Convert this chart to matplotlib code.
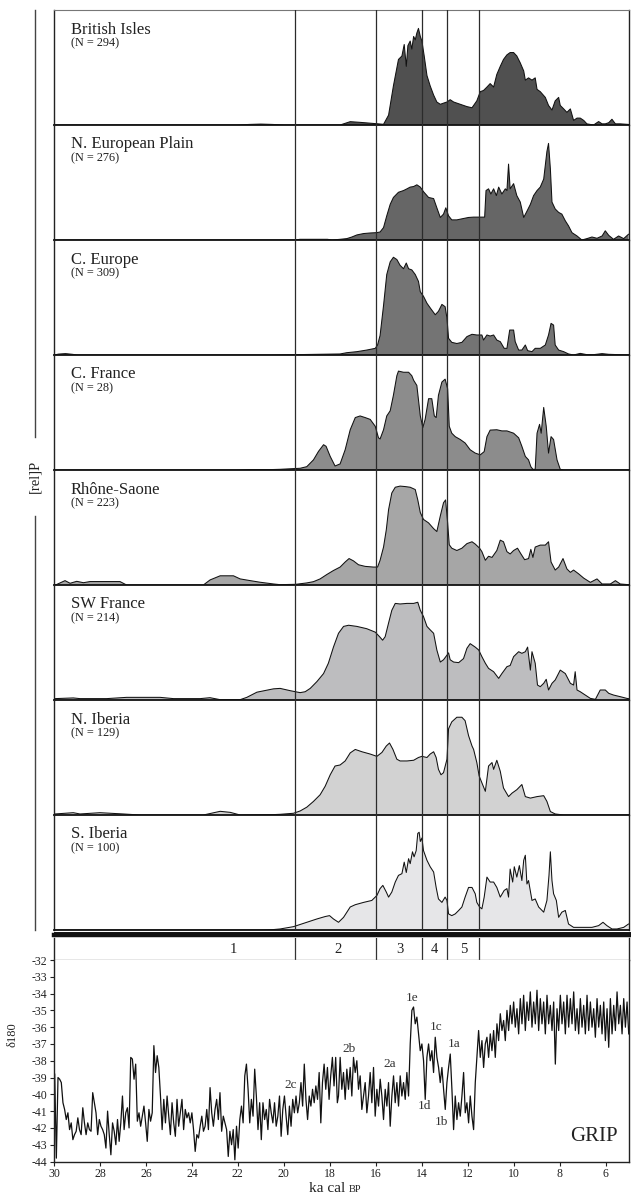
import numpy as np
import matplotlib
matplotlib.use("Agg")
import matplotlib.pyplot as plt
from matplotlib.lines import Line2D

plt.rcParams['font.family'] = ['Liberation Serif', 'DejaVu Serif']
plt.rcParams['axes.unicode_minus'] = False

# ------------------------------------------------------------------ data
regions = ["British Isles", "N. European Plain", "C. Europe", "C. France",
           "Rhône-Saone", "SW France", "N. Iberia", "S. Iberia"]
n_dates = [294, 276, 309, 28, 223, 214, 129, 100]
fill_colors = ['#505050', '#666666', '#747474', '#8c8c8c',
               '#a6a6a6', '#bdbdbf', '#d2d2d2', '#e6e6e8']

# (age ka cal BP, relative probability in % of panel height)
british_isles = [(30.0, 0), (22.0, 0), (21.5, 0.5), (21.0, 0.8), (20.5, 0.5), (20.0, 0), (17.9, 0),
    (17.55, 0), (17.11, 2.9), (16.68, 2.3), (15.95, 1.1), (15.66, 0.6), (15.44, 8.6), (15.23, 34),
    (15.01, 57), (14.86, 60), (14.76, 70), (14.67, 51), (14.60, 69), (14.50, 73), (14.43, 66),
    (14.35, 77), (14.28, 74), (14.21, 80), (14.14, 84), (14.06, 77), (13.99, 73), (13.89, 60),
    (13.77, 43), (13.63, 34), (13.48, 26), (13.34, 20), (13.19, 18), (13.05, 19), (12.90, 20),
    (12.76, 22), (12.61, 20), (12.32, 18), (12.03, 16), (11.81, 15), (11.60, 21), (11.45, 29),
    (11.31, 30), (11.16, 33), (11.02, 36), (10.87, 33), (10.73, 44), (10.58, 51), (10.44, 57),
    (10.29, 61), (10.15, 63), (10.00, 63), (9.86, 60), (9.71, 54), (9.56, 47), (9.49, 39),
    (9.35, 41), (9.20, 39), (9.06, 41), (8.98, 31), (8.84, 29), (8.62, 24), (8.48, 17),
    (8.33, 13), (8.19, 21), (8.04, 24), (7.97, 17), (7.82, 14), (7.68, 11), (7.53, 14),
    (7.39, 4), (7.24, 6), (7.10, 6), (6.95, 4), (6.81, 1), (6.52, 0), (6.30, 3), (6.15, 1),
    (6.01, 1), (5.86, 2), (5.72, 5), (5.57, 1), (5.36, 1), (5.07, 0.6), (5.0, 0.5)]

n_european_plain = [(30.0, 0), (19.5, 0), (19.3, 0.6), (18.1, 0.6), (17.9, 0), (17.55, 0.6),
    (17.26, 1.2), (17.04, 2.6), (16.82, 4.4), (16.53, 5.6), (16.24, 6.1), (15.95, 6.4),
    (15.81, 7.0), (15.66, 10.8), (15.52, 21), (15.37, 31), (15.23, 37), (15.01, 41.5),
    (14.79, 43), (14.64, 44.5), (14.50, 46), (14.35, 46.5), (14.21, 48), (14.06, 46),
    (13.92, 42), (13.70, 37), (13.48, 36), (13.34, 28), (13.19, 19.6), (13.05, 22.5),
    (12.95, 28), (12.83, 21), (12.69, 17.5), (12.47, 17.5), (12.18, 18.7), (11.96, 19.6),
    (11.74, 19.9), (11.26, 19.9), (11.20, 43), (11.09, 44.5), (10.99, 40), (10.87, 44.5),
    (10.75, 38.6), (10.65, 46), (10.51, 40), (10.36, 44.5), (10.29, 43), (10.22, 66),
    (10.15, 44.5), (10.00, 49), (9.86, 38.6), (9.71, 33), (9.56, 19.6), (9.42, 25),
    (9.27, 31), (9.13, 38.6), (8.98, 43), (8.84, 46), (8.69, 53), (8.55, 77), (8.48, 84),
    (8.40, 62), (8.33, 33), (8.19, 27), (8.04, 24), (7.90, 22.5), (7.75, 16.7), (7.61, 12.3),
    (7.46, 6.4), (7.24, 3.5), (7.03, 0), (6.81, 1.2), (6.59, 2.6), (6.37, 1.5), (6.15, 3.5),
    (6.01, 8), (5.86, 4), (5.65, 0.6), (5.43, 3.5), (5.21, 1.2), (5.0, 5)]

c_europe = [(30.0, 0), (29.8, 0.8), (29.5, 1.2), (29.2, 0.6), (29.0, 0), (20.5, 0), (19.5, 0.3),
    (17.55, 0.9), (17.26, 2), (16.82, 2.9), (16.39, 4.3), (16.02, 5.8), (15.92, 8.7),
    (15.81, 17), (15.66, 43), (15.52, 70), (15.37, 81), (15.23, 85), (15.08, 83), (14.94, 78),
    (14.79, 75), (14.67, 80), (14.57, 75), (14.43, 74), (14.28, 70), (14.14, 64), (14.06, 55),
    (13.92, 51), (13.77, 45), (13.63, 41), (13.41, 35), (13.27, 38), (13.12, 44), (12.98, 42),
    (12.90, 32), (12.83, 14.5), (12.69, 11), (12.47, 10), (12.25, 11), (12.03, 16),
    (11.81, 18), (11.60, 17.4), (11.38, 17.4), (11.31, 13), (11.16, 17.4), (11.02, 16.5),
    (10.87, 17.4), (10.73, 13), (10.58, 11.6), (10.41, 5.8), (10.29, 5.8), (10.17, 21.7),
    (10.00, 21.7), (9.93, 11.6), (9.78, 4.3), (9.64, 4.3), (9.49, 8.7), (9.39, 3.8),
    (9.20, 2.9), (9.06, 5.8), (8.84, 5.8), (8.62, 8.7), (8.48, 17.4), (8.37, 27.5),
    (8.26, 26), (8.19, 8.7), (8.04, 4.3), (7.82, 2.9), (7.61, 0.9), (7.39, 0), (7.10, 1.4),
    (6.81, 0.3), (6.52, 0.3), (6.15, 1.2), (5.86, 0.6), (5.0, 0)]

c_france = [(30.0, 0), (22.0, 0), (21.5, 0.4), (20.5, 0.4), (20.16, 0.6), (19.29, 1.5),
    (19.0, 2.9), (18.71, 8.8), (18.49, 16.2), (18.27, 22), (18.16, 20.6), (17.98, 11.8),
    (17.77, 3.5), (17.55, 5.3), (17.33, 17.6), (17.11, 35), (16.89, 45.6), (16.68, 47),
    (16.46, 45.6), (16.24, 44), (16.02, 38), (15.88, 28), (15.81, 27), (15.66, 35),
    (15.52, 47), (15.37, 51.5), (15.23, 65), (15.08, 82), (15.01, 86), (14.79, 85),
    (14.57, 85), (14.43, 82), (14.35, 78), (14.21, 73.5), (14.06, 47), (13.95, 37),
    (13.85, 44), (13.70, 62), (13.56, 62), (13.45, 47), (13.37, 45.6), (13.27, 65),
    (13.12, 76.5), (12.98, 79), (12.87, 70.6), (12.80, 38), (12.69, 32), (12.54, 29),
    (12.32, 26.5), (12.11, 23.5), (11.89, 17.6), (11.67, 14.7), (11.45, 13.2), (11.28, 16),
    (11.16, 29), (11.02, 34.7), (10.73, 35), (10.51, 34), (10.29, 34), (10.00, 32),
    (9.78, 28), (9.64, 20.6), (9.49, 11.8), (9.35, 8.8), (9.25, 2.9), (9.16, 0.6),
    (9.06, 0.6), (8.98, 32), (8.87, 39.7), (8.80, 32), (8.69, 54.4), (8.58, 38),
    (8.48, 14.7), (8.37, 29), (8.26, 26.5), (8.11, 8.8), (7.97, 0.6), (7.82, 0), (5.0, 0)]

rhone_saone = [(30.0, 0), (29.88, 0.5), (29.52, 3.8), (29.30, 1.5), (29.01, 3.2), (28.72, 2),
    (28.43, 3), (27.13, 3), (26.84, 0), (23.50, 0), (23.21, 4.4), (22.77, 8), (22.19, 8),
    (21.90, 5.3), (21.46, 3.8), (21.03, 2.4), (20.45, 0.9), (20.16, 0.3), (19.48, 0.6),
    (19.0, 1.8), (18.71, 2.9), (18.42, 5.3), (18.13, 9.1), (17.84, 12.6), (17.55, 15.6),
    (17.33, 20), (17.16, 23), (16.97, 21), (16.75, 17.6), (16.46, 16.2), (16.10, 15.6),
    (15.92, 15.6), (15.81, 21.5), (15.66, 33), (15.54, 48), (15.44, 65.6), (15.30, 80),
    (15.15, 85), (14.94, 86), (14.72, 85.6), (14.50, 85), (14.28, 83), (14.17, 74),
    (14.06, 63), (13.92, 57), (13.70, 54), (13.48, 49), (13.34, 46.5), (13.19, 60),
    (13.05, 71.5), (12.96, 74), (12.87, 54), (12.80, 35), (12.69, 32), (12.47, 30),
    (12.25, 32), (12.03, 36), (11.81, 37.6), (11.67, 35.6), (11.48, 32), (11.38, 29),
    (11.23, 21.5), (11.09, 25), (10.94, 24), (10.73, 30), (10.58, 39), (10.44, 37.6),
    (10.29, 29), (10.15, 27), (10.00, 30), (9.83, 32), (9.68, 27), (9.52, 22), (9.35, 23),
    (9.25, 31), (9.16, 24), (9.06, 33), (8.84, 34.7), (8.62, 34.7), (8.48, 37.6), (8.37, 20),
    (8.19, 13), (8.04, 15.6), (7.85, 23), (7.68, 14), (7.53, 11), (7.39, 13), (7.17, 9.7),
    (6.95, 6), (6.66, 2.3), (6.37, 5.3), (6.15, 0.9), (5.79, 0.9), (5.57, 3.8), (5.36, 0.9),
    (5.0, 0.3)]

sw_france = [(30.0, 0.5), (29.96, 1.2), (29.16, 1.8), (28.87, 1.2), (27.71, 1.2), (26.84, 2.3),
    (25.38, 2.3), (24.80, 1.2), (23.64, 1.2), (23.21, 2), (22.77, 0.3), (21.90, 0.3),
    (21.61, 2.3), (21.17, 6.8), (20.45, 9.7), (20.16, 10.1), (19.72, 8.1), (19.29, 6.4),
    (19.07, 7.2), (18.85, 10.1), (18.56, 16), (18.27, 23), (18.06, 32), (17.84, 46),
    (17.62, 58), (17.40, 64), (17.18, 65), (16.82, 64), (16.39, 62), (16.02, 59), (15.83, 55),
    (15.70, 52), (15.59, 55), (15.44, 67), (15.30, 78), (15.15, 84), (14.94, 83.5),
    (14.64, 84), (14.35, 84), (14.17, 85), (14.06, 78), (13.92, 72.5), (13.77, 64),
    (13.63, 61), (13.48, 58), (13.34, 43.5), (13.19, 33), (13.05, 35), (12.90, 39),
    (12.83, 41), (12.76, 35), (12.61, 33), (12.39, 32.5), (12.18, 36), (12.03, 45),
    (11.89, 49), (11.67, 46), (11.52, 43.5), (11.38, 37.7), (11.23, 32), (11.09, 27.5),
    (10.87, 24.6), (10.65, 18.8), (10.51, 23), (10.29, 29), (10.15, 30), (10.00, 37.7),
    (9.78, 42), (9.64, 40.6), (9.49, 42), (9.39, 46), (9.27, 26), (9.20, 42), (9.06, 32),
    (8.96, 13), (8.84, 11.6), (8.69, 14.5), (8.58, 18), (8.48, 8.7), (8.33, 14.5),
    (8.19, 17.4), (7.97, 26), (7.75, 23), (7.53, 14.5), (7.39, 13), (7.32, 24.6),
    (7.24, 8.7), (7.10, 7.2), (6.88, 4.3), (6.66, 1.4), (6.44, 0.6), (6.23, 8.7),
    (6.01, 8.7), (5.86, 5.8), (5.65, 4.3), (5.36, 2.9), (5.07, 1.4), (5.0, 1.2)]

n_iberia = [(30.0, 0.3), (29.96, 0.9), (29.16, 2), (28.87, 0.9), (28.0, 2), (26.98, 0.9),
    (26.25, 0), (23.50, 0), (22.77, 3.2), (22.33, 2.3), (21.90, 0), (20.5, 0.3),
    (20.16, 0.6), (19.58, 1.5), (19.29, 3.5), (19.0, 6.8), (18.71, 11.8), (18.42, 17.6),
    (18.20, 25), (17.98, 35), (17.77, 42.6), (17.55, 43.5), (17.33, 47), (17.11, 54),
    (16.89, 57), (16.60, 55), (16.24, 53), (15.95, 51), (15.73, 54.4), (15.54, 60),
    (15.40, 62.6), (15.25, 57), (15.08, 48.5), (14.94, 47), (14.64, 47), (14.35, 47.6),
    (14.14, 50), (13.99, 51), (13.77, 50), (13.63, 53), (13.48, 55), (13.37, 50),
    (13.27, 39.7), (13.16, 35), (13.05, 36.8), (12.90, 48.5), (12.83, 75), (12.69, 81),
    (12.47, 85), (12.25, 85), (12.11, 82), (11.96, 69), (11.81, 60), (11.74, 57),
    (11.60, 45.6), (11.50, 34), (11.38, 28), (11.23, 20.6), (11.09, 42.6), (10.94, 45.6),
    (10.87, 39.7), (10.73, 47.6), (10.58, 38), (10.44, 23.5), (10.22, 16), (10.07, 19),
    (9.86, 22), (9.64, 26.5), (9.49, 16), (9.27, 14.7), (8.98, 16), (8.69, 16.8),
    (8.55, 11.8), (8.40, 3), (8.19, 0.9), (7.82, 0), (5.0, 0)]

s_iberia = [(30.0, 0), (21.0, 0), (20.5, 0.3), (20.16, 0.9), (19.58, 2.9), (19.0, 6.7),
    (18.56, 9.6), (18.20, 11.7), (18.01, 12.5), (17.84, 9.6), (17.62, 6.7), (17.40, 11),
    (17.11, 20), (16.89, 22), (16.53, 24), (16.17, 25.7), (15.95, 30), (15.81, 36),
    (15.69, 38.8), (15.54, 33), (15.44, 28.6), (15.30, 33), (15.15, 41.7), (15.01, 47.5),
    (14.86, 49), (14.76, 59), (14.67, 50), (14.57, 62), (14.50, 57.7), (14.40, 68),
    (14.33, 63.6), (14.24, 69), (14.17, 84), (14.11, 85), (14.06, 77), (13.99, 80),
    (13.92, 69), (13.77, 60.6), (13.63, 55), (13.48, 50.4), (13.37, 37), (13.27, 27),
    (13.12, 24), (12.98, 28.6), (12.90, 25.7), (12.83, 14), (12.69, 12.5), (12.54, 14),
    (12.39, 17), (12.25, 20), (12.11, 28.6), (11.96, 37), (11.81, 37), (11.67, 31.5),
    (11.60, 24), (11.48, 20), (11.38, 18.4), (11.28, 28.6), (11.16, 46), (11.02, 41.7),
    (10.87, 41.7), (10.73, 37), (10.58, 28.6), (10.41, 34.4), (10.29, 36), (10.22, 28.6),
    (10.15, 53), (10.04, 41.7), (9.97, 55), (9.86, 46), (9.75, 56), (9.64, 43),
    (9.56, 60.6), (9.49, 65), (9.42, 40), (9.35, 43), (9.20, 25.7), (9.06, 27), (8.91, 20),
    (8.69, 15.5), (8.55, 25.7), (8.46, 47.5), (8.40, 68), (8.33, 43), (8.26, 31.5),
    (8.14, 25.7), (8.04, 11), (7.90, 15.5), (7.75, 17), (7.61, 5.2), (7.39, 2.3),
    (7.10, 2.3), (6.59, 2.3), (6.30, 3.8), (6.11, 6.7), (5.94, 3.8), (5.72, 0.9),
    (5.50, 0.9), (5.21, 2.3), (5.0, 5.2)]

panel_series = [british_isles, n_european_plain, c_europe, c_france,
                rhone_saone, sw_france, n_iberia, s_iberia]

zone_bounds = [19.5, 16.0, 14.0, 12.9, 11.5]
zone_labels = ["1", "2", "3", "4", "5"]
zone_label_ka = [22.2, 17.66, 14.93, 13.44, 12.17]

# GRIP d18O, evenly spaced samples between the given ages
grip_seg1_ages = (29.97, 17.67)
grip_seg1 = [-38.8, -43.8, -39.0, -39.1, -39.3, -40.5, -40.9, -41.5, -41.1, -42.1, -41.7, -42.7,
    -42.4, -42.2, -41.4, -42.1, -42.4, -40.8, -41.7, -42.4, -41.7, -42.1, -42.2, -39.9, -40.5,
    -41.1, -42.4, -41.5, -41.9, -42.1, -42.4, -43.2, -41.0, -42.4, -43.6, -41.7, -42.2, -43.0,
    -41.5, -42.8, -41.7, -40.1, -42.1, -41.1, -40.8, -42.0, -37.8, -37.9, -39.1, -38.2, -41.6,
    -41.1, -41.9, -41.3, -40.7, -41.7, -42.8, -40.9, -41.6, -41.1, -37.1, -38.7, -37.7, -38.4,
    -40.1, -42.1, -40.3, -41.7, -40.1, -41.3, -42.4, -40.5, -41.7, -42.5, -40.3, -41.9, -41.1,
    -40.3, -42.1, -40.9, -41.4, -41.1, -41.7, -41.1, -42.1, -43.4, -42.4, -42.6, -41.9, -41.3,
    -42.2, -41.9, -40.9, -42.1, -39.6, -41.1, -41.9, -40.9, -40.3, -41.5, -39.9, -42.2, -41.3,
    -41.7, -42.1, -43.7, -42.2, -43.0, -42.1, -43.9, -41.9, -43.2, -41.5, -40.7, -41.7, -38.9,
    -38.2, -39.7, -41.7, -40.3, -41.3, -38.5, -40.1, -42.1, -40.5, -42.7, -40.5, -41.5, -40.9,
    -42.1, -40.3, -41.1, -41.7, -40.5, -41.9, -41.3, -40.1, -42.5, -40.9, -40.1, -41.3, -42.4,
    -40.7, -41.9, -40.3, -41.1, -40.1, -41.1, -40.5, -39.3, -40.7, -38.2, -40.3, -41.5, -40.1,
    -40.7, -39.7, -40.5, -39.5, -40.3, -38.7, -41.7, -39.3, -38.2, -39.7, -38.4, -40.3, -38.9,
    -37.8, -39.5, -37.8, -40.5]
grip_seg2_ages = (17.62, 4.99)
grip_seg2 = [-40.1, -37.8, -39.7, -38.7, -40.3, -38.5, -39.7, -38.4, -40.1, -37.8, -38.7, -38.0,
    -39.7, -38.9, -40.9, -40.1, -39.3, -41.1, -40.1, -38.7, -40.5, -38.4, -41.3, -39.7, -40.7,
    -39.1, -40.1, -41.5, -39.7, -40.7, -39.3, -41.9, -40.1, -38.9, -40.5, -39.3, -40.7, -38.9,
    -40.1, -39.3, -40.3, -38.7, -40.1, -37.0, -35.0, -34.8, -35.8, -35.4, -36.4, -37.4, -37.0,
    -38.0, -40.3, -37.8, -37.0, -38.0, -37.4, -38.7, -36.6, -37.8, -38.4, -39.3, -38.4, -39.7,
    -40.9, -39.3, -38.4, -37.6, -39.7, -42.1, -40.1, -41.5, -40.5, -41.3, -40.1, -38.7, -41.1,
    -40.5, -41.7, -40.1, -41.3, -42.1, -39.3, -37.8, -36.2, -37.8, -36.8, -38.4, -37.0, -36.6,
    -37.8, -36.4, -37.4, -36.2, -37.8, -35.8, -36.8, -35.2, -36.2, -35.6, -36.8, -35.0, -36.2,
    -34.7, -35.8, -34.5, -36.0, -34.9, -36.4, -34.3, -35.8, -34.1, -36.2, -34.5, -35.6, -33.9,
    -36.0, -34.5, -35.8, -33.8, -36.2, -34.3, -35.8, -34.5, -36.4, -34.1, -35.8, -34.7, -36.2,
    -34.5, -38.2, -34.9, -36.2, -34.1, -35.8, -34.5, -36.4, -34.1, -36.0, -34.3, -35.8, -33.9,
    -36.2, -34.9, -36.4, -34.3, -36.0, -34.7, -36.4, -34.1, -36.2, -34.5, -36.0, -34.9, -36.6,
    -34.3, -36.0, -34.7, -36.4, -34.5, -36.8, -34.9, -37.2, -34.3, -36.4, -34.7, -36.2, -33.9,
    -35.8, -34.7, -36.4, -34.3, -36.0, -34.5, -36.4]

grip_events = ["2c", "2b", "2a", "1e", "1d", "1c", "1b", "1a"]
grip_event_ka = [19.72, 17.18, 15.37, 14.42, 13.87, 13.36, 13.12, 12.58]
grip_event_val = [-39.42, -37.28, -38.19, -34.26, -40.68, -35.98, -41.62, -37.03]

x_ticks = [30, 28, 26, 24, 22, 20, 18, 16, 14, 12, 10, 8, 6]
y_ticks = [-44, -43, -42, -41, -40, -39, -38, -37, -36, -35, -34, -33, -32]

# ------------------------------------------------------------------ layout
W, H = 631, 1197
fig = plt.figure(figsize=(W / 100, H / 100), dpi=100)


def box(x0, y0, x1, y1):
    return [x0 / W, 1 - y1 / H, (x1 - x0) / W, (y1 - y0) / H]


X0, X1 = 54, 628.5
TOP, PH = 10, 115
XLIM = (30, 5)

for i, (name, n, col, pts) in enumerate(zip(regions, n_dates, fill_colors, panel_series)):
    top = TOP + PH * i
    ax = fig.add_axes(box(X0, top, X1, top + PH))
    ka = np.array([p[0] for p in pts])
    val = np.array([p[1] for p in pts])
    ax.fill_between(ka, 0, val, facecolor=col, linewidth=0, zorder=1)
    ax.plot(ka, val, color='#111111', lw=0.75, zorder=2)
    for b in zone_bounds:
        ax.axvline(b, color='#2b2b2b', lw=0.9, zorder=3)
    ax.set_xlim(*XLIM)
    ax.set_ylim(0, 100)
    ax.set_xticks([])
    ax.set_yticks([])
    ax.patch.set_alpha(0)
    for s in ('left', 'right'):
        ax.spines[s].set_color('#222222')
        ax.spines[s].set_linewidth(1.0)
    ax.spines['bottom'].set_color('#111111')
    ax.spines['bottom'].set_linewidth(1.3)
    if i == 0:
        ax.spines['top'].set_color('#777777')
        ax.spines['top'].set_linewidth(0.8)
    else:
        ax.spines['top'].set_visible(False)
    ax.text(0.029, 1 - 23.5 / PH, name, transform=ax.transAxes, fontsize=12,
            ha='left', va='baseline', color='#222222')
    ax.text(0.029, 1 - 36.0 / PH, f"(N = {n})", transform=ax.transAxes, fontsize=8.8,
            ha='left', va='baseline', color='#222222')

bottom_stack = TOP + PH * 8
# double rule under the stack
fig.add_artist(Line2D([X0 / W, 630 / W], [1 - (bottom_stack + 1.8) / H] * 2,
                      color='#111111', lw=0.7))
fig.add_artist(Line2D([X0 / W, 630 / W], [1 - (bottom_stack + 5.0) / H] * 2,
                      color='#111111', lw=3.2))

# zone band
axz = fig.add_axes(box(X0, bottom_stack + 7.5, X1, 960))
axz.set_xlim(*XLIM)
axz.set_ylim(0, 1)
axz.set_xticks([])
axz.set_yticks([])
for b in zone_bounds:
    axz.axvline(b, color='#333333', lw=0.9)
for lab, k in zip(zone_labels, zone_label_ka):
    axz.text(k, 0.48, lab, ha='center', va='center', fontsize=10.5, color='#222222')
axz.spines['top'].set_visible(False)
axz.spines['bottom'].set_color('#888888')
axz.spines['bottom'].set_linewidth(1.0)
for s in ('left', 'right'):
    axz.spines[s].set_color('#222222')
    axz.spines[s].set_linewidth(1.0)

# GRIP panel
axg = fig.add_axes(box(X0, 960, X1, 1161.5))
ages = np.concatenate([np.linspace(*grip_seg1_ages, len(grip_seg1)),
                       np.linspace(*grip_seg2_ages, len(grip_seg2))])
vals = np.concatenate([grip_seg1, grip_seg2])
axg.plot(ages, vals, color='#111111', lw=0.9)
axg.set_xlim(*XLIM)
axg.set_ylim(-44, -32)
axg.set_xticks(x_ticks)
axg.set_xticklabels([str(t) for t in x_ticks])
axg.set_yticks(y_ticks)
axg.set_yticklabels([str(t) for t in y_ticks])
axg.tick_params(direction='out', length=3, width=0.8, labelsize=8.5, pad=2,
                colors='#222222')
for s in ('left', 'right', 'bottom'):
    axg.spines[s].set_color('#222222')
    axg.spines[s].set_linewidth(1.0)
axg.spines['top'].set_visible(False)
for lab, k, v in zip(grip_events, grip_event_ka, grip_event_val):
    axg.text(k, v, lab, ha='center', va='center', fontsize=9.5, color='#333333')
axg.text(6.51, -42.5, "GRIP", ha='center', va='center', fontsize=15, color='#222222')

# y label of GRIP
fig.text(12 / W, 1 - 1035 / H, "δ180", rotation=90, ha='center', va='center',
         fontsize=9, color='#222222')
# x label: "ka cal BP" with small BP
fig.text(345 / W, 1 - 1192 / H, "ka cal", ha='right', va='baseline', fontsize=11,
         color='#222222')
fig.text(348.5 / W, 1 - 1192 / H, "BP", ha='left', va='baseline', fontsize=7.5,
         color='#222222')

# left [rel]P axis
fig.add_artist(Line2D([35 / W, 35 / W], [1 - 10 / H, 1 - 437 / H], color='#444444', lw=1.0))
fig.add_artist(Line2D([35 / W, 35 / W], [1 - 516 / H, 1 - 930 / H], color='#444444', lw=1.0))
fig.text(35 / W, 1 - 476 / H, "[rel]P", rotation=90, ha='center', va='center',
         fontsize=10.5, color='#222222')

fig.savefig("out.png", dpi=100)
